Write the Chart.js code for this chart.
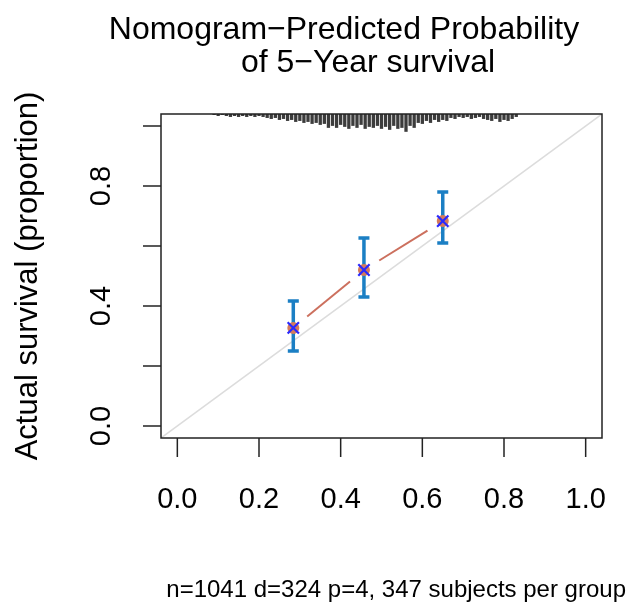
<!DOCTYPE html>
<html>
<head>
<meta charset="utf-8">
<script src="https://cdn.jsdelivr.net/npm/chart.js@4/dist/chart.umd.min.js"></script>
<style>
  html, body { margin: 0; padding: 0; background: #fff; }
  #wrap { width: 629px; height: 607px; }
</style>
</head>
<body>
<div id="wrap"><canvas id="calib" width="629" height="607"></canvas></div>
<script>
// calibration groups (predicted vs observed 5-year survival)
const predicted = [0.284, 0.457, 0.650];
const observed = [0.327, 0.520, 0.683];
const lowerCI = [0.250, 0.430, 0.610];
const upperCI = [0.417, 0.627, 0.780];

// axis limits and ticks
const axisMin = -0.04;
const axisMax = 1.04;
const xTicks = [0.0, 0.2, 0.4, 0.6, 0.8, 1.0];
const xTickLabels = ["0.0", "0.2", "0.4", "0.6", "0.8", "1.0"];
const yTicks = [0.0, 0.2, 0.4, 0.6, 0.8, 1.0];
const yTickLabels = ["0.0", "", "0.4", "", "0.8", ""];

// distribution of predicted probabilities (rug at top)
const rugX = [0.09, 0.10, 0.11, 0.12, 0.13, 0.14, 0.15, 0.16, 0.17, 0.18, 0.19, 0.20, 0.21, 0.22,
  0.23, 0.24, 0.25, 0.26, 0.27, 0.28, 0.29, 0.30, 0.31, 0.32, 0.33, 0.34, 0.35, 0.36,
  0.37, 0.38, 0.39, 0.40, 0.41, 0.42, 0.43, 0.44, 0.45, 0.46, 0.47, 0.48, 0.49, 0.50,
  0.51, 0.52, 0.53, 0.54, 0.55, 0.56, 0.57, 0.58, 0.59, 0.60, 0.61, 0.62, 0.63, 0.64,
  0.65, 0.66, 0.67, 0.68, 0.69, 0.70, 0.71, 0.72, 0.73, 0.74, 0.75, 0.76, 0.77, 0.78,
  0.79, 0.80, 0.81, 0.82, 0.83];
const rugCounts = [1, 2, 1, 2, 3, 2, 3, 2, 3, 2, 3, 2, 3, 4,
  5, 4, 6, 5, 7, 6, 8, 7, 9, 8, 10, 9, 11, 10,
  14, 12, 14, 11, 13, 15, 12, 14, 11, 15, 13, 14, 12, 15,
  13, 16, 12, 15, 14, 18, 12, 14, 9, 10, 7, 9, 6, 8,
  6, 7, 4, 5, 3, 4, 3, 5, 4, 3, 5, 6, 7, 5,
  8, 6, 7, 5, 3];

const titleLines = ["Nomogram\u2212Predicted Probability", "of 5\u2212Year survival"];
const yTitle = "Actual survival (proportion)";
const footer = "n=1041 d=324 p=4, 347 subjects per group";

const FONT = "'Liberation Sans', Arial, Helvetica, sans-serif";

const calibPlugin = {
  id: "calib",
  beforeDatasetsDraw(chart) {
    const { ctx, chartArea: a, scales: { x, y } } = chart;
    ctx.save();

    // rug of predicted values hanging from the top of the box
    ctx.strokeStyle = "#3c3c3c";
    ctx.lineWidth = 3.3;
    const top = y.getPixelForValue(axisMax);
    rugX.forEach((v, i) => {
      const px = x.getPixelForValue(v);
      const bottom = y.getPixelForValue(axisMax - rugCounts[i] * 0.0033);
      ctx.beginPath();
      ctx.moveTo(px, top);
      ctx.lineTo(px, bottom);
      ctx.stroke();
    });

    // ideal line
    ctx.beginPath();
    ctx.rect(a.left, a.top, a.right - a.left, a.bottom - a.top);
    ctx.clip();
    ctx.strokeStyle = "#dcdcdc";
    ctx.lineWidth = 1.5;
    ctx.beginPath();
    ctx.moveTo(x.getPixelForValue(axisMin), y.getPixelForValue(axisMin));
    ctx.lineTo(x.getPixelForValue(axisMax), y.getPixelForValue(axisMax));
    ctx.stroke();

    // error bars
    ctx.strokeStyle = "#1b7fc4";
    ctx.lineWidth = 3.5;
    predicted.forEach((p, i) => {
      const px = x.getPixelForValue(p);
      const lo = y.getPixelForValue(lowerCI[i]);
      const hi = y.getPixelForValue(upperCI[i]);
      ctx.beginPath();
      ctx.moveTo(px, lo);
      ctx.lineTo(px, hi);
      ctx.moveTo(px - 5.5, lo);
      ctx.lineTo(px + 5.5, lo);
      ctx.moveTo(px - 5.5, hi);
      ctx.lineTo(px + 5.5, hi);
      ctx.stroke();
    });

    // connecting line with gaps around points (type = "b")
    ctx.strokeStyle = "#cc705e";
    ctx.lineWidth = 2;
    const gap = 18;
    for (let i = 0; i < predicted.length - 1; i++) {
      const x1 = x.getPixelForValue(predicted[i]);
      const y1 = y.getPixelForValue(observed[i]);
      const x2 = x.getPixelForValue(predicted[i + 1]);
      const y2 = y.getPixelForValue(observed[i + 1]);
      const len = Math.hypot(x2 - x1, y2 - y1);
      const ux = (x2 - x1) / len, uy = (y2 - y1) / len;
      ctx.beginPath();
      ctx.moveTo(x1 + ux * gap, y1 + uy * gap);
      ctx.lineTo(x2 - ux * gap, y2 - uy * gap);
      ctx.stroke();
    }
    ctx.restore();
  },
  afterDraw(chart) {
    const { ctx, chartArea: a, scales: { x, y } } = chart;
    ctx.save();
    ctx.fillStyle = "#000";
    ctx.strokeStyle = "#222";
    ctx.lineWidth = 1.5;

    // box
    ctx.strokeRect(a.left, a.top, a.right - a.left, a.bottom - a.top);

    // x axis
    ctx.font = "29px " + FONT;
    ctx.textAlign = "center";
    ctx.textBaseline = "alphabetic";
    xTicks.forEach((v, i) => {
      const px = x.getPixelForValue(v);
      ctx.beginPath();
      ctx.moveTo(px, a.bottom);
      ctx.lineTo(px, a.bottom + 19);
      ctx.stroke();
      ctx.fillText(xTickLabels[i], px, 508);
    });

    // y axis
    yTicks.forEach((v, i) => {
      const py = y.getPixelForValue(v);
      ctx.beginPath();
      ctx.moveTo(a.left, py);
      ctx.lineTo(a.left - 18, py);
      ctx.stroke();
      if (yTickLabels[i]) {
        ctx.save();
        ctx.translate(110, py);
        ctx.rotate(-Math.PI / 2);
        ctx.fillText(yTickLabels[i], 0, 0);
        ctx.restore();
      }
    });

    // y title
    ctx.save();
    ctx.font = "31px " + FONT;
    ctx.translate(37, (a.top + a.bottom) / 2);
    ctx.rotate(-Math.PI / 2);
    ctx.fillText(yTitle, 0, 0);
    ctx.restore();

    // main title
    ctx.font = "32px " + FONT;
    ctx.fillText(titleLines[0], 344, 39);
    ctx.fillText(titleLines[1], 368, 72);

    // footer
    ctx.font = "24px " + FONT;
    ctx.textAlign = "right";
    ctx.fillText(footer, 626, 597);
    ctx.restore();
  }
};

new Chart(document.getElementById("calib"), {
  type: "scatter",
  data: {
    datasets: [
      {
        label: "observed-x",
        order: 1,
        data: predicted.map((p, i) => ({ x: p, y: observed[i] })),
        pointStyle: "crossRot",
        pointRadius: 8,
        pointBorderColor: "#2a2aff",
        pointBorderWidth: 2.2
      },
      {
        label: "observed",
        order: 2,
        data: predicted.map((p, i) => ({ x: p, y: observed[i] })),
        pointStyle: "circle",
        pointRadius: 6,
        pointBackgroundColor: "#d47a5c",
        pointBorderColor: "#d47a5c",
        pointBorderWidth: 0
      }
    ]
  },
  options: {
    responsive: false,
    animation: false,
    layout: { padding: { left: 161, right: 27, top: 114, bottom: 169 } },
    plugins: { legend: { display: false }, tooltip: { enabled: false } },
    scales: {
      x: { type: "linear", min: axisMin, max: axisMax, display: false },
      y: { type: "linear", min: axisMin, max: axisMax, display: false }
    }
  },
  plugins: [calibPlugin]
});
</script>
</body>
</html>
